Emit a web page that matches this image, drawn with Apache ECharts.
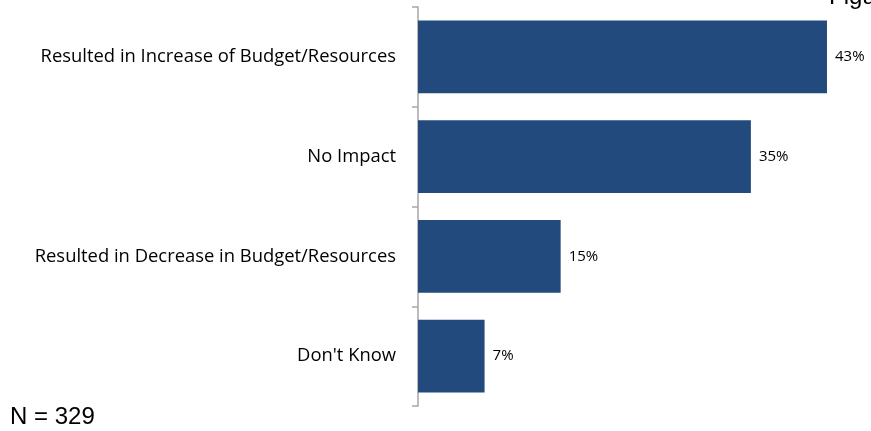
<!DOCTYPE html>
<html>
<head>
<meta charset="utf-8">
<script src="https://cdn.jsdelivr.net/npm/echarts@6/dist/echarts.min.js"></script>
<style>
  html, body { margin: 0; padding: 0; background: #ffffff; }
  #chart { width: 871px; height: 431px; }
</style>
</head>
<body>
<div id="chart"></div>
<script>
// Survey responses: impact on budget/resources
const categories = [
  'Resulted in Increase of Budget/Resources',
  'No Impact',
  'Resulted in Decrease in Budget/Resources',
  "Don't Know"
];
const percentValues = [43, 35, 15, 7];
const sampleNote = 'N = 329';
const figureTitle = 'Figure';

const chart = echarts.init(document.getElementById('chart'), null, { renderer: 'canvas' });

chart.setOption({
  animation: false,
  backgroundColor: '#ffffff',
  grid: { left: 418, top: 7, width: 428, height: 399, containLabel: false },
  xAxis: {
    type: 'value',
    min: 0,
    max: 45,
    show: false
  },
  yAxis: {
    type: 'category',
    data: categories,
    inverse: true,
    axisLine: { show: true, lineStyle: { color: '#a6a6a6', width: 1.5 } },
    axisTick: { show: true, length: 6, lineStyle: { color: '#a6a6a6', width: 1.5 } },
    axisLabel: {
      margin: 22,
      color: '#000000',
      fontFamily: '"Open Sans", sans-serif',
      fontSize: 18.4
    },
    splitLine: { show: false }
  },
  series: [{
    type: 'bar',
    data: percentValues,
    barCategoryGap: '27%',
    itemStyle: { color: '#224a7c' },
    label: {
      show: true,
      position: 'right',
      distance: 8,
      formatter: p => p.value + '%',
      color: '#000000',
      fontFamily: '"Open Sans", sans-serif',
      fontSize: 15
    }
  }],
  graphic: [
    {
      type: 'text',
      left: 10,
      top: 405,
      style: {
        text: sampleNote,
        fill: '#000000',
        font: '24px "Liberation Sans", Arial, sans-serif'
      }
    },
    {
      type: 'text',
      left: 829,
      top: -15,
      style: {
        text: figureTitle,
        fill: '#000000',
        font: '24px "Liberation Sans", Arial, sans-serif'
      }
    }
  ]
});
</script>
</body>
</html>
